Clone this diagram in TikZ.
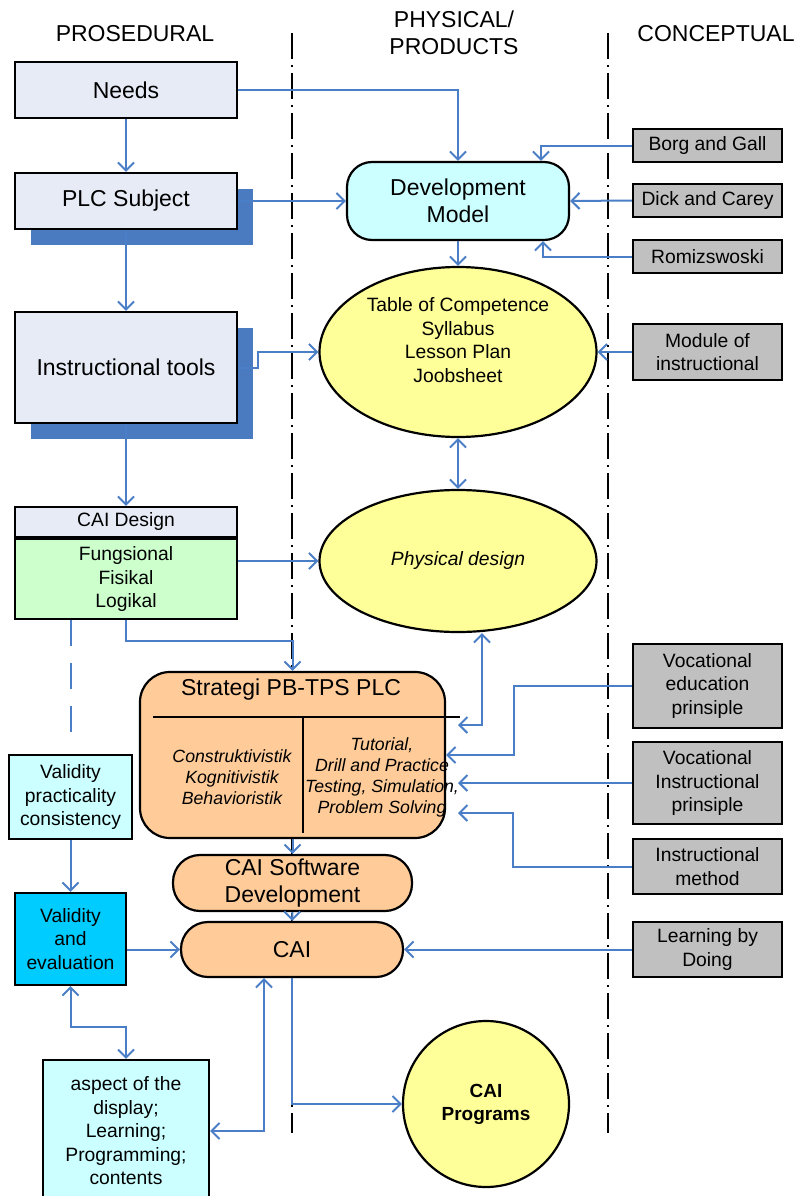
\documentclass[tikz,border=0pt]{standalone}
\usepackage{fontspec}
\setmainfont{Liberation Sans}
\usetikzlibrary{arrows.meta,positioning,shapes.geometric,shadows}

\definecolor{procfill}{HTML}{E6EBF6}
\definecolor{shadowblue}{HTML}{4A7ABF}
\definecolor{linkblue}{HTML}{4A7EC6}
\definecolor{greenfill}{HTML}{CCFFCC}
\definecolor{palecyan}{HTML}{CCFFFF}
\definecolor{deepcyan}{HTML}{00CCFF}
\definecolor{paleyellow}{HTML}{FFFF99}
\definecolor{peach}{HTML}{FFCC99}
\definecolor{boxgrey}{HTML}{C0C0C0}

\begin{document}
\begin{tikzpicture}[x=1pt, y=-1pt, line width=2.2pt,
    bigfont/.style={font=\fontsize{23}{27}\selectfont},
    smallfont/.style={font=\fontsize{19.3}{23.5}\selectfont},
    procbox/.style={draw, fill=procfill, minimum width=222pt, inner sep=0pt, align=center, bigfont},
    shadowed/.style={drop shadow={shadow xshift=16pt, shadow yshift=-16pt, fill=shadowblue, opacity=1}},
    greybox/.style={draw, fill=boxgrey, minimum width=149pt, inner sep=0pt, align=center, smallfont},
    oval/.style={draw, ellipse, fill=paleyellow, minimum width=277pt, inner sep=0pt, align=center, smallfont},
    pill/.style={draw, fill=peach, rounded corners=27pt, inner sep=0pt, align=center, bigfont},
    divider/.style={line width=2pt, dash pattern=on 26pt off 6pt on 2pt off 6pt},
    arr/.style={draw=linkblue, line width=2pt, -{Straight Barb[length=8pt,width=16pt]}},
    arr2/.style={draw=linkblue, line width=2pt, {Straight Barb[length=8pt,width=16pt]}-{Straight Barb[length=8pt,width=16pt]}}]

\useasboundingbox (0,0) rectangle (798,1196);

% column headings and dividers
\node[bigfont] (hproc) at (135,34) {PROSEDURAL};
\node[bigfont, align=center] (hphys) at (454,33) {PHYSICAL/\\PRODUCTS};
\node[bigfont] (hconc) at (716,34) {CONCEPTUAL};
\draw[divider] (292,33) -- (292,1133);
\draw[divider] (608,33) -- (608,1133);

% procedural column
\node[procbox, minimum height=56pt] (needs) at (126,90) {Needs};
\node[procbox, shadowed, minimum height=56pt] (plc) at (126,201) {PLC Subject};
\node[procbox, shadowed, minimum height=111pt] (itools) at (126,367.5) {Instructional tools};
\node[procbox, minimum height=30pt, smallfont] (caihead) at (126,522) {CAI Design};
\node[procbox, fill=greenfill, minimum height=80pt, smallfont] (caibody) [below=0pt of caihead] {Fungsional\\Fisikal\\Logikal};
\node[draw, fill=palecyan, minimum width=123pt, minimum height=84pt, inner sep=0pt, align=center, smallfont] (vpc) at (70.5,797) {Validity\\practicality\\consistency};
\node[draw, fill=deepcyan, minimum width=111pt, minimum height=92pt, inner sep=0pt, align=center, smallfont] (valeval) at (70.5,939) {Validity\\and\\evaluation};
\node[draw, fill=palecyan, minimum width=166pt, minimum height=142pt, inner sep=0pt, align=center, smallfont] (aspect) at (126,1131) {aspect of the\\display;\\Learning;\\Programming;\\contents};

% physical / products column
\node[draw, fill=palecyan, rounded corners=25pt, minimum width=222pt, minimum height=78pt, inner sep=0pt, align=center, bigfont] (devmodel) at (458,201) {Development\\Model};
\node[oval, minimum height=170pt] (table) at (458,352) {};
\node[smallfont, align=center] (tabletxt) at (458,340) {Table of Competence\\Syllabus\\Lesson Plan\\Joobsheet};
\node[oval, minimum height=142pt, font=\fontsize{19.3}{23.5}\selectfont\itshape] (physical) at (458,561) {Physical design};
\node[draw, fill=peach, rounded corners=30pt, minimum width=305pt, minimum height=166pt] (strat) at (292.5,755) {};
\node[bigfont] (strattitle) at (291,690) {Strategi PB-TPS PLC};
\draw (153,717) -- (460,717);
\draw (303,717) -- (303,833);
\node[align=center, font=\fontsize{17.7}{21}\selectfont\itshape] (theory) at (232,777) {Construktivistik\\Kognitivistik\\Behavioristik};
\node[align=center, font=\fontsize{17.7}{21}\selectfont\itshape] (modes) at (382,777) {Tutorial,\\Drill and Practice\\Testing, Simulation,\\Problem Solving};
\node[pill, minimum width=239pt, minimum height=56pt] (caisoft) at (292.5,883) {CAI Software\\Development};
\node[pill, minimum width=222pt, minimum height=55pt] (cai) at (292,949.5) {CAI};
\node[draw, circle, fill=paleyellow, minimum size=166pt, inner sep=0pt, align=center, font=\fontsize{19}{23}\selectfont\bfseries] (prog) at (486,1104) {CAI\\Programs};

% conceptual column
\node[greybox, minimum height=33pt] (borg) at (707.5,145.5) {Borg and Gall};
\node[greybox, minimum height=33pt] (dick) at (707.5,200.5) {Dick and Carey};
\node[greybox, minimum height=33pt] (romi) at (707.5,256.5) {Romizswoski};
\node[greybox, minimum height=56pt] (module) at (707.5,352) {Module of\\instructional};
\node[greybox, minimum height=84pt] (voced) at (707.5,686) {Vocational\\education\\prinsiple};
\node[greybox, minimum height=82pt] (vocins) at (707.5,783) {Vocational\\Instructional\\prinsiple};
\node[greybox, minimum height=55pt] (imethod) at (707.5,866.5) {Instructional\\method};
\node[greybox, minimum height=55pt] (lbd) at (707.5,949.5) {Learning by\\Doing};

\coordinate (physin) at (458,725);
\coordinate (vocin) at (458,783);
\coordinate (methin) at (458,813);

% connectors
\draw[arr] (needs) -- (plc);
\draw[arr] (needs.east) -| (devmodel.north);
\draw[arr] (plc.east) -- (devmodel.west);
\draw[arr] (plc) -- (itools);
\draw[arr] (itools.east) -- ++(20,0) |- (table.west);
\draw[arr] (itools) -- (caihead);
\draw[arr] (borg.west) -| ([xshift=83pt]devmodel.north);
\draw[arr] (dick.west) -- (devmodel.east);
\draw[arr] (romi.west) -| ([xshift=85pt]devmodel.south);
\draw[arr] (devmodel) -- (table);
\draw[arr] (module.west) -- (table.east);
\draw[arr2] (table) -- (physical);
\draw[arr] (caibody.east |- physical.west) -- (physical.west);
\draw[arr] (caibody.south) -- ++(0,21) -| (strat.north);
\draw[arr2] ([xshift=24pt]physical.south) |- (physin);
\draw[arr] (voced.west) -- ++(-118,0) |- (strat.east);
\draw[arr] (vocins.west) -- (vocin);
\draw[arr] (imethod.west) -- ++(-119,0) |- (methin);
\draw[arr] (strat) -- (caisoft);
\draw[arr] (caisoft) -- (cai);
\draw[arr] (valeval.east |- cai.west) -- (cai.west);
\draw[arr] (lbd.west) -- (cai.east);
\draw[arr] (cai.south) |- (prog.west);
\draw[arr2] (aspect.east) -| ([xshift=-28pt]cai.south);
\draw[arr2] (valeval.south) -- ++(0,41) -| (aspect.north);
\draw[arr] (vpc) -- (valeval);
\draw[draw=linkblue, line width=2pt, dash pattern=on 26pt off 17pt] (vpc.north |- caibody.south) -- ([yshift=8pt]vpc.north);

\end{tikzpicture}
\end{document}
